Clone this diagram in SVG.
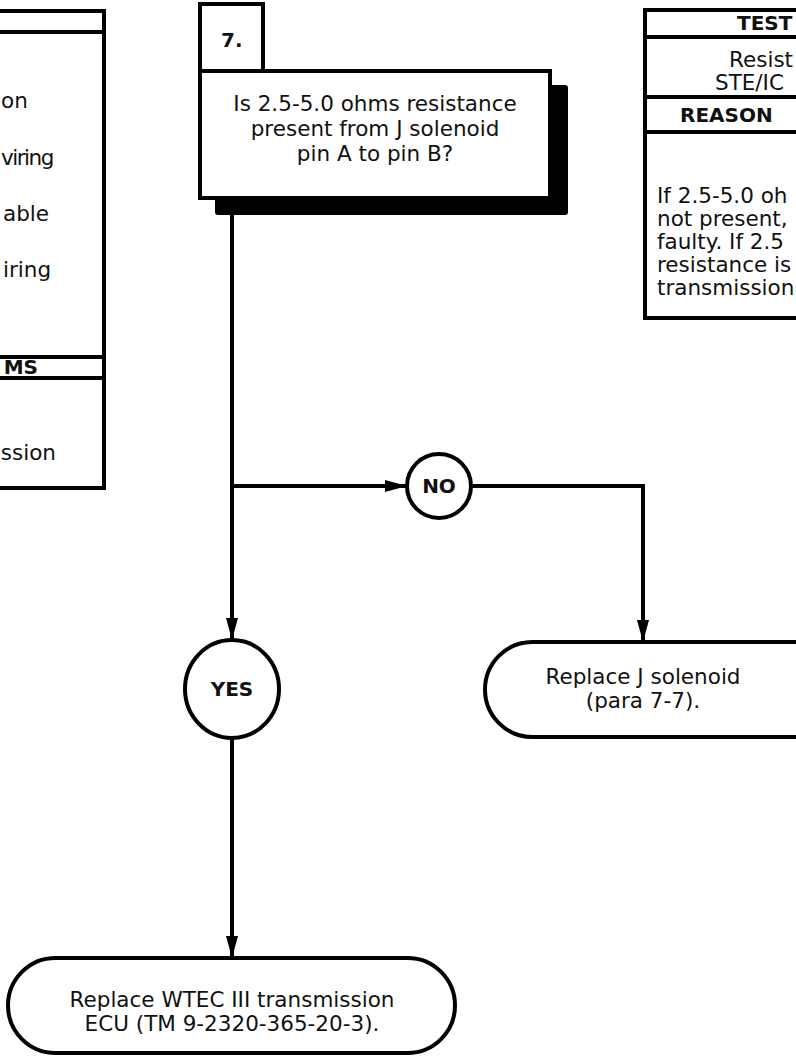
<svg xmlns="http://www.w3.org/2000/svg" width="796" height="1057" viewBox="0 0 796 1057">
  <style>
    .box { fill: #fff; stroke: #000; stroke-width: 4; }
    .ln { fill: none; stroke: #000; stroke-width: 4; }
    .txt { font-family: "DejaVu Sans", "Liberation Sans", sans-serif; font-size: 21.5px; fill: #111; }
    .hd { font-family: "DejaVu Sans", "Liberation Sans", sans-serif; font-size: 20px; font-weight: bold; fill: #111; }
    .c { text-anchor: middle; }
    .e { text-anchor: end; }
  </style>
  <defs>
    <marker id="arrow" markerUnits="userSpaceOnUse" viewBox="0 0 22 12" refX="22" refY="6" markerWidth="22" markerHeight="12" orient="auto">
      <path d="M0,0 L22,6 L0,12 Z" fill="#000"/>
    </marker>
  </defs>
  <rect width="796" height="1057" fill="#fff"/>

  <!-- left side panel (continues off the page) -->
  <g id="panel-left">
    <rect class="box" x="-20" y="11" width="124" height="477"/>
    <line class="ln" x1="-20" y1="32" x2="104" y2="32"/>
    <line class="ln" x1="-20" y1="357" x2="104" y2="357"/>
    <line class="ln" x1="-20" y1="378" x2="104" y2="378"/>
    <text class="txt" x="1" y="108">on</text>
    <text class="txt" x="1" y="165" letter-spacing="-1.5">viring</text>
    <text class="txt" x="3" y="221">able</text>
    <text class="txt" x="3" y="277">iring</text>
    <text class="hd e" x="38" y="374">MS</text>
    <text class="txt e" x="56" y="460">ssion</text>
  </g>

  <!-- step 7 question box -->
  <g id="step7">
    <rect class="box" x="200" y="4" width="63" height="67"/>
    <text class="hd" x="221" y="47">7.</text>
    <rect x="215" y="85" width="353" height="130" rx="3" fill="#000"/>
    <rect class="box" x="200" y="71" width="350" height="127"/>
    <text class="txt c" x="375" y="111">Is 2.5-5.0 ohms resistance</text>
    <text class="txt c" x="375" y="136">present from J solenoid</text>
    <text class="txt c" x="375" y="161">pin A to pin B?</text>
  </g>

  <!-- right side panel (continues off the page) -->
  <g id="panel-right">
    <rect class="box" x="645" y="10" width="170" height="308"/>
    <line class="ln" x1="645" y1="37" x2="815" y2="37"/>
    <line class="ln" x1="645" y1="97" x2="815" y2="97"/>
    <line class="ln" x1="645" y1="132" x2="815" y2="132"/>
    <text class="hd" x="737" y="30">TEST</text>
    <text class="txt" x="729" y="67">Resist</text>
    <text class="txt" x="715" y="90">STE/IC</text>
    <text class="hd" x="680" y="122">REASON</text>
    <text class="txt" x="657" y="203">If 2.5-5.0 oh</text>
    <text class="txt" x="657" y="226">not present,</text>
    <text class="txt" x="657" y="249">faulty. If 2.5</text>
    <text class="txt" x="657" y="272">resistance is</text>
    <text class="txt" x="657" y="295">transmission</text>
  </g>

  <!-- connectors -->
  <g id="connectors">
    <line class="ln" x1="232" y1="215" x2="232" y2="640" marker-end="url(#arrow)"/>
    <line class="ln" x1="232" y1="486" x2="407" y2="486" marker-end="url(#arrow)"/>
    <polyline class="ln" points="471,486 643,486 643,642" marker-end="url(#arrow)"/>
    <line class="ln" x1="232" y1="738" x2="232" y2="958" marker-end="url(#arrow)"/>
  </g>

  <g id="no">
    <circle class="box" cx="439" cy="486" r="32"/>
    <text class="hd c" x="439" y="493">NO</text>
  </g>

  <g id="yes">
    <ellipse class="box" cx="232" cy="689" rx="47" ry="49"/>
    <text class="hd c" x="232" y="696">YES</text>
  </g>

  <g id="replace-solenoid">
    <rect class="box" x="485" y="642" width="400" height="95" rx="47.5"/>
    <text class="txt c" x="643" y="684">Replace J solenoid</text>
    <text class="txt c" x="643" y="708">(para 7-7).</text>
  </g>

  <g id="replace-ecu">
    <rect class="box" x="8" y="958" width="447" height="95" rx="47.5"/>
    <text class="txt c" x="232" y="1007">Replace WTEC III transmission</text>
    <text class="txt c" x="232" y="1031">ECU (TM 9-2320-365-20-3).</text>
  </g>
</svg>
